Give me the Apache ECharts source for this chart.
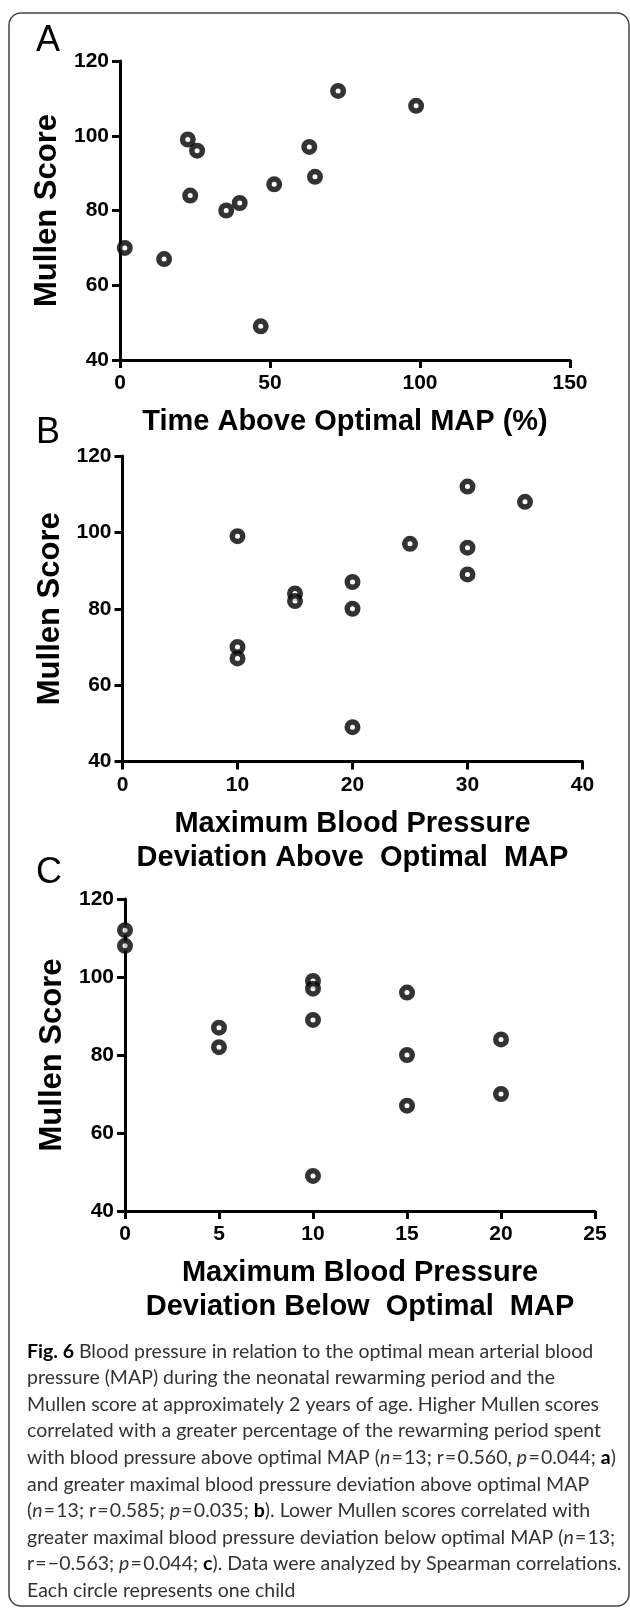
<!DOCTYPE html>
<html>
<head>
<meta charset="utf-8">
<script src="https://cdn.jsdelivr.net/npm/echarts@6/dist/echarts.min.js"></script>
<style>
  html, body { margin: 0; padding: 0; background: #fff; }
  #main { width: 630px; height: 1608px; }
</style>
</head>
<body>
<div id="main"></div>
<script>
// panel A: time above optimal MAP (%)
var aX = [1.6, 14.7, 22.6, 25.7, 23.4, 35.4, 39.9, 46.9, 51.4, 63.1, 65.0, 72.7, 98.7];
var aY = [70, 67, 99, 96, 84, 80, 82, 49, 87, 97, 89, 112, 108];
// panel B: max deviation above optimal MAP
var bX = [10, 10, 10, 15, 15, 20, 20, 20, 25, 30, 30, 30, 35];
var bY = [99, 70, 67, 84, 82, 87, 80, 49, 97, 112, 96, 89, 108];
// panel C: max deviation below optimal MAP
var cX = [0, 0, 5, 5, 10, 10, 10, 10, 15, 15, 15, 20, 20];
var cY = [112, 108, 87, 82, 99, 97, 89, 49, 96, 80, 67, 84, 70];

var panelLetters = ['A', 'B', 'C'];
var yTitle = 'Mullen Score';
var xTitles = [
  'Time Above Optimal MAP (%)',
  'Maximum Blood Pressure\nDeviation Above  Optimal  MAP',
  'Maximum Blood Pressure\nDeviation Below  Optimal  MAP'
];
var xRanges = [[0, 150, 50], [0, 40, 10], [0, 25, 5]];

// hair spaces round the "=" signs, like the printed caption
var EQ = '\u200a=\u200a';
var captionLines = [
  '{b|Fig. 6} Blood pressure in relation to the optimal mean arterial blood',
  'pressure (MAP) during the neonatal rewarming period and the',
  'Mullen score at approximately 2 years of age. Higher Mullen scores',
  'correlated with a greater percentage of the rewarming period spent',
  'with blood pressure above optimal MAP ({i|n}' + EQ + '13; r' + EQ + '0.560, {i|p}' + EQ + '0.044; {b|a})',
  'and greater maximal blood pressure deviation above optimal MAP',
  '({i|n}' + EQ + '13; r' + EQ + '0.585; {i|p}' + EQ + '0.035; {b|b}). Lower Mullen scores correlated with',
  'greater maximal blood pressure deviation below optimal MAP ({i|n}' + EQ + '13;',
  'r' + EQ + '\u22120.563; {i|p}' + EQ + '0.044; {b|c}). Data were analyzed by Spearman correlations.',
  'Each circle represents one child'
];

var FONT = 'Liberation Sans, Arial, sans-serif';
var CAP_FONT = 'Lato, Open Sans, sans-serif';
var CAP_SIZE = 19.5;

var grids = [
  { left: 120, top: 61, width: 450, height: 299 },
  { left: 122.5, top: 456, width: 460, height: 305.5 },
  { left: 125, top: 899, width: 470, height: 312 }
];
var letterY = [43, 435, 875];

var axisCommon = {
  axisLine: { show: true, lineStyle: { color: '#000', width: 3 } },
  axisTick: { show: true, length: 8, lineStyle: { color: '#000', width: 3 } },
  splitLine: { show: false },
  axisLabel: { color: '#000', fontSize: 21, fontWeight: 'bold', fontFamily: FONT }
};

var xAxes = [], yAxes = [], series = [];
var data = [[aX, aY], [bX, bY], [cX, cY]];
for (var i = 0; i < 3; i++) {
  xAxes.push(Object.assign({}, axisCommon, {
    gridIndex: i, type: 'value',
    min: xRanges[i][0], max: xRanges[i][1], interval: xRanges[i][2],
    axisLabel: Object.assign({}, axisCommon.axisLabel, { margin: 13 }),
    name: xTitles[i], nameLocation: 'middle', nameGap: 45,
    nameTextStyle: { color: '#000', fontSize: 29, fontWeight: 'bold', fontFamily: FONT, lineHeight: 34 }
  }));
  yAxes.push(Object.assign({}, axisCommon, {
    gridIndex: i, type: 'value', min: 40, max: 120, interval: 20,
    axisLabel: Object.assign({}, axisCommon.axisLabel, { margin: 11 }),
    name: yTitle, nameLocation: 'middle', nameRotate: 90, nameGap: 57,
    nameTextStyle: { color: '#000', fontSize: 31, fontWeight: 'bold', fontFamily: FONT }
  }));
  var pts = [];
  for (var j = 0; j < data[i][0].length; j++) pts.push([data[i][0][j], data[i][1][j]]);
  series.push({
    type: 'scatter', xAxisIndex: i, yAxisIndex: i, data: pts,
    symbol: 'circle', symbolSize: 10.5, clip: false,
    itemStyle: { color: '#fff', borderColor: '#000', borderWidth: 5.5 },
    emphasis: { disabled: true }
  });
}

var graphics = [
  {
    type: 'rect', silent: true,
    shape: { x: 9, y: 13, width: 620, height: 1593, r: 12 },
    style: { fill: 'none', stroke: '#444', lineWidth: 1.5 }
  }
];
for (var k = 0; k < 3; k++) {
  graphics.push({
    type: 'text', left: 36, top: letterY[k] - 20,
    style: { text: panelLetters[k], fill: '#000', font: '36px ' + FONT }
  });
}
graphics.push({
  type: 'text', left: 27, top: 1338,
  style: {
    text: captionLines.join('\n'),
    fill: '#333', fontSize: CAP_SIZE, fontFamily: CAP_FONT, lineHeight: 26.6,
    rich: {
      b: { fontWeight: 'bold', fill: '#000', fontSize: CAP_SIZE, fontFamily: CAP_FONT, lineHeight: 26.6 },
      i: { fontStyle: 'italic', fill: '#333', fontSize: CAP_SIZE, fontFamily: CAP_FONT, lineHeight: 26.6 }
    }
  }
});

var myChart = echarts.init(document.getElementById('main'));
myChart.setOption({
  animation: false,
  grid: grids,
  xAxis: xAxes,
  yAxis: yAxes,
  series: series,
  graphic: graphics
});
</script>
</body>
</html>
